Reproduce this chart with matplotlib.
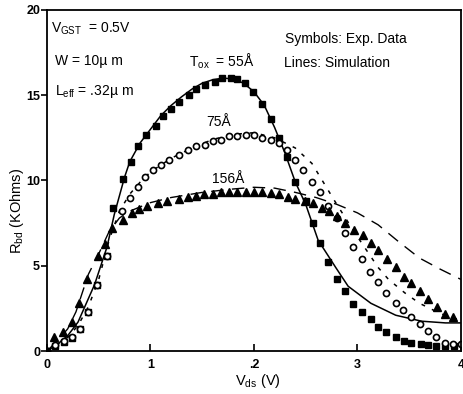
import numpy as np
import matplotlib
matplotlib.use("Agg")
import matplotlib.pyplot as plt

plt.rcParams['font.family'] = ['Liberation Sans', 'DejaVu Sans']

# experimental data, T_ox = 55 A (filled squares)
v_55 = [0.0, 0.08, 0.16, 0.24, 0.32, 0.40, 0.48, 0.58, 0.64, 0.73, 0.81, 0.88, 0.96, 1.05, 1.12,
        1.20, 1.28, 1.37, 1.44, 1.53, 1.62, 1.69, 1.78, 1.84, 1.91, 1.99, 2.08, 2.16, 2.24, 2.32,
        2.40, 2.50, 2.57, 2.64, 2.72, 2.80, 2.88, 2.96, 3.04, 3.13, 3.20, 3.28, 3.37, 3.45, 3.52,
        3.61, 3.68, 3.76, 3.85, 3.93]
r_55 = [0.0, 0.3, 0.55, 0.75, 1.3, 2.3, 3.9, 5.6, 8.4, 10.1, 11.1, 12.0, 12.65, 13.2, 13.8,
        14.2, 14.6, 15.0, 15.35, 15.6, 15.8, 16.0, 16.0, 15.95, 15.7, 15.2, 14.5, 13.6, 12.5, 11.35,
        9.9, 8.8, 7.5, 6.35, 5.2, 4.2, 3.5, 2.75, 2.3, 1.9, 1.4, 1.1, 0.8, 0.6, 0.47,
        0.4, 0.35, 0.3, 0.3, 0.3]

# T_ox = 75 A (open circles)
v_75 = [0.0, 0.08, 0.16, 0.24, 0.32, 0.40, 0.48, 0.58, 0.72, 0.80, 0.875, 0.95, 1.02, 1.10, 1.18,
        1.28, 1.36, 1.44, 1.53, 1.60, 1.68, 1.76, 1.84, 1.92, 2.00, 2.08, 2.16, 2.24, 2.32, 2.40,
        2.47, 2.56, 2.64, 2.72, 2.80, 2.88, 2.96, 3.04, 3.12, 3.20, 3.28, 3.37, 3.44, 3.52, 3.60,
        3.68, 3.76, 3.85, 3.92, 4.00]
r_75 = [0.0, 0.35, 0.6, 0.8, 1.3, 2.3, 3.9, 5.6, 8.2, 9.0, 9.6, 10.2, 10.6, 10.9, 11.2,
        11.5, 11.8, 12.0, 12.1, 12.3, 12.4, 12.6, 12.6, 12.65, 12.65, 12.5, 12.4, 12.2, 11.8, 11.2,
        10.6, 9.9, 9.3, 8.5, 7.8, 6.9, 6.1, 5.4, 4.65, 4.05, 3.4, 2.8, 2.4, 2.0, 1.6,
        1.2, 0.8, 0.5, 0.4, 0.4]

# T_ox = 156 A (filled triangles)
v_156 = [0.0, 0.07, 0.15, 0.24, 0.31, 0.39, 0.49, 0.56, 0.63, 0.73, 0.82, 0.89, 0.97, 1.07, 1.16,
         1.28, 1.36, 1.44, 1.52, 1.60, 1.68, 1.76, 1.84, 1.92, 2.00, 2.08, 2.16, 2.24, 2.33, 2.40,
         2.49, 2.57, 2.66, 2.73, 2.80, 2.88, 2.97, 3.05, 3.13, 3.20, 3.29, 3.37, 3.45, 3.52, 3.60,
         3.68, 3.77, 3.85, 3.92]
r_156 = [0.0, 0.8, 1.1, 1.7, 2.8, 4.2, 5.6, 6.3, 7.2, 7.7, 8.1, 8.3, 8.5, 8.7, 8.8,
         8.9, 9.05, 9.1, 9.2, 9.2, 9.3, 9.3, 9.3, 9.3, 9.3, 9.3, 9.25, 9.2, 9.05, 8.9,
         8.8, 8.65, 8.4, 8.2, 7.9, 7.5, 7.1, 6.8, 6.35, 5.9, 5.4, 4.9, 4.35, 4.0, 3.5,
         3.05, 2.6, 2.2, 2.0]

# simulation curves
vs_55 = [0.0, 0.1, 0.2, 0.3, 0.46, 0.58, 0.65, 0.75, 0.8, 0.9, 1.0, 1.1, 1.2, 1.3, 1.4, 1.5, 1.6,
         1.7, 1.8, 1.9, 2.0, 2.1, 2.2, 2.3, 2.4, 2.5, 2.62, 2.79, 2.91, 3.13, 3.37, 3.62, 3.85, 4.0]
rs_55 = [0.0, 0.4, 0.9, 1.7, 3.9, 6.1, 8.0, 10.2, 11.1, 12.2, 13.0, 13.8, 14.4, 14.9, 15.35, 15.7, 15.9,
         16.0, 15.95, 15.7, 15.2, 14.4, 13.1, 11.6, 9.9, 8.6, 6.5, 4.9, 3.8, 2.8, 2.1, 1.75, 1.65, 1.65]

vs_75 = [0.0, 0.2, 0.3, 0.4, 0.5, 0.6, 0.7, 0.8, 0.9, 1.0, 1.2, 1.4, 1.6, 1.8, 2.0, 2.2, 2.4,
         2.56, 2.62, 2.72, 2.8, 3.0, 3.1, 3.2, 3.3, 3.46, 3.6, 3.8, 4.0]
rs_75 = [0.0, 0.8, 1.5, 2.6, 4.2, 6.5, 8.2, 9.2, 9.9, 10.5, 11.3, 11.9, 12.4, 12.7, 12.8, 12.5, 11.9,
         11.0, 10.4, 9.4, 8.6, 6.7, 5.8, 4.9, 4.2, 3.4, 2.8, 2.2, 1.8]

vs_156 = [0.0, 0.1, 0.2, 0.28, 0.4, 0.5, 0.6, 0.7, 0.8, 1.0, 1.2, 1.5, 1.8, 2.0, 2.2, 2.4, 2.6,
          2.8, 3.0, 3.2, 3.4, 3.6, 3.8, 4.0]
rs_156 = [0.0, 0.6, 1.3, 2.3, 4.5, 5.7, 7.0, 7.8, 8.2, 8.7, 9.0, 9.3, 9.5, 9.6, 9.55, 9.3, 9.0,
          8.6, 8.1, 7.4, 6.4, 5.45, 4.8, 4.2]

x_ticks = [0, 1, 2, 3, 4]
x_ticklabels = ['0', '1', '.2', '3', '4']
y_ticks = [0, 5, 10, 15, 20]

fig = plt.figure(figsize=(4.63, 3.94), dpi=100)
ax = fig.add_axes([0.1015, 0.109, 0.894, 0.866])

ax.plot(vs_55, rs_55, color='black', lw=1.1)
ax.plot(vs_75, rs_75, color='black', lw=1.1, dashes=(2.5, 5))
ax.plot(vs_156, rs_156, color='black', lw=1.0, dashes=(9, 6))

ax.plot(v_55, r_55, 's', color='black', ms=4.4, ls='none')
ax.plot(v_75, r_75, 'o', mfc='white', mec='black', mew=1.2, ms=4.4, ls='none')
ax.plot(v_156, r_156, '^', color='black', ms=5.5, ls='none')

ax.set_xlim(0, 4)
ax.set_ylim(0, 20)
ax.set_xticks(x_ticks)
ax.set_xticklabels(x_ticklabels, fontsize=9, fontweight='bold')
ax.set_yticks(y_ticks)
ax.set_yticklabels([str(t) for t in y_ticks], fontsize=9, fontweight='bold')
ax.tick_params(axis='x', direction='in', length=5, width=1.2, pad=6)
ax.tick_params(axis='y', direction='out', length=4, width=1.2, pad=1)
for s in ax.spines.values():
    s.set_linewidth(1.3)

ax.set_xlabel('V$_{\\mathregular{ds}}$ (V)', fontsize=10.5)
ax.set_ylabel('R$_{\\mathregular{bd}}$ (KOhms)', fontsize=10.5)
ax.xaxis.set_label_coords(0.51, -0.06)
ax.yaxis.set_label_coords(-0.05, 0.41)

fs = 10
ax.text(0.04, 18.9, 'V$_{\\mathregular{GST}}$  = 0.5V', fontsize=fs, ha='left', va='center')
ax.text(0.08, 17.0, 'W = 10\u00b5 m', fontsize=fs, ha='left', va='center')
ax.text(0.08, 15.2, 'L$_{\\mathregular{eff}}$ = .32\u00b5 m', fontsize=fs, ha='left', va='center')
ax.text(1.37, 17.0, 'T$_{\\mathregular{ox}}$  = 55\u00c5', fontsize=fs, ha='left', va='center')
ax.text(1.54, 13.4, '75\u00c5', fontsize=fs, ha='left', va='center')
ax.text(1.59, 10.1, '156\u00c5', fontsize=fs, ha='left', va='center')
ax.text(2.30, 18.3, 'Symbols: Exp. Data', fontsize=fs, ha='left', va='center')
ax.text(2.29, 16.9, 'Lines: Simulation', fontsize=fs, ha='left', va='center')

fig.savefig('out.png', dpi=100)
